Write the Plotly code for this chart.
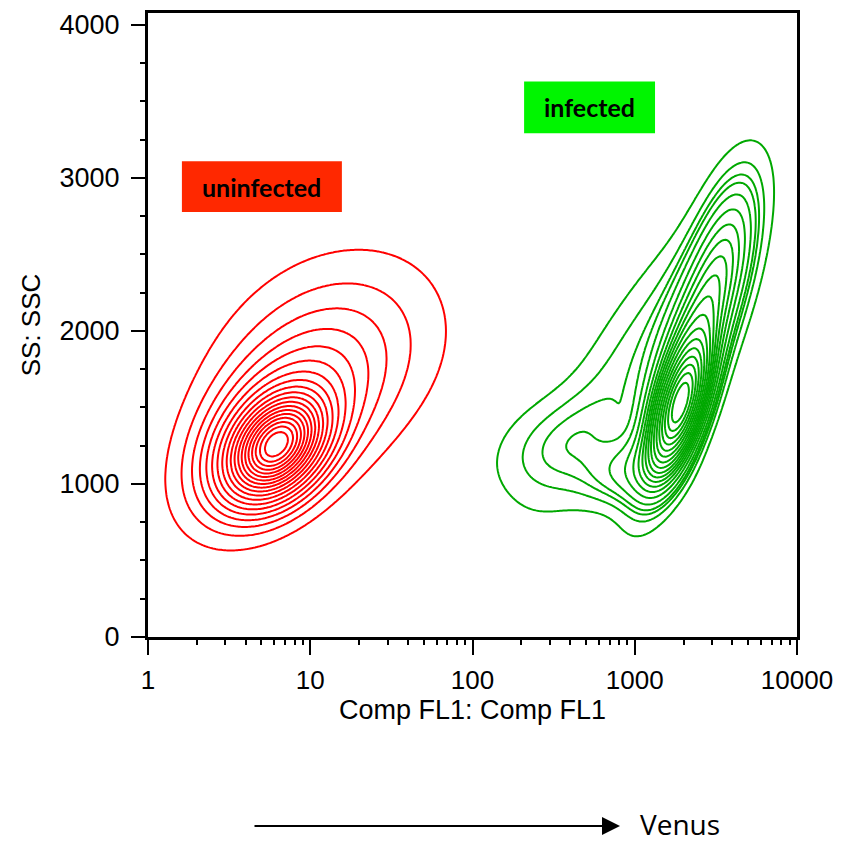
import numpy as np
import plotly.graph_objects as go

# Axis ticks
X_TICK_VALS = [1, 10, 100, 1000, 10000]
X_TICK_TEXT = ["1", "10", "100", "1000", "10000"]
Y_TICK_VALS = [0, 1000, 2000, 3000, 4000]
Y_TICK_TEXT = ["0", "1000", "2000", "3000", "4000"]

# Population models in (log10 Comp FL1, SSC) space: Gaussian mixture components
# uninfected
R_MU_U = [0.79, 0.80, 1.12]
R_MU_V = [1250, 1350, 1830]
R_SD_U = [0.17, 0.30, 0.45]
R_SD_V = [190, 340, 440]
R_RHO = [0.35, 0.45, 0.25]
R_W = [0.48, 0.33, 0.19]

# infected
G_MU_U = [3.28, 3.32, 3.55, 3.05, 2.50, 2.95]
G_MU_V = [1500, 1800, 2450, 1900, 1250, 1080]
G_SD_U = [0.11, 0.18, 0.14, 0.42, 0.27, 0.18]
G_SD_V = [260, 480, 380, 650, 230, 150]
G_RHO = [0.60, 0.75, 0.50, 0.85, 0.30, 0.20]
G_W = [0.34, 0.32, 0.10, 0.15, 0.05, 0.04]

# equal-probability contour levels (fraction of events enclosed)
LEVEL_START, LEVEL_END, LEVEL_STEP = 0.05, 0.95, 0.05

u_grid = np.linspace(-0.3, 4.3, 461)
v_grid = np.linspace(-300, 4400, 471)
U, V = np.meshgrid(u_grid, v_grid)


def mixture_density(mu_u, mu_v, sd_u, sd_v, rho, w):
    z = np.zeros_like(U)
    for mu1, mu2, s1, s2, r, wt in zip(mu_u, mu_v, sd_u, sd_v, rho, w):
        a = (U - mu1) / s1
        b = (V - mu2) / s2
        q = (a * a - 2 * r * a * b + b * b) / (1 - r * r)
        z += wt / (2 * np.pi * s1 * s2 * np.sqrt(1 - r * r)) * np.exp(-q / 2)
    return z


def enclosed_fraction(z):
    # map each density value to the share of events lying at higher density
    flat = z.ravel()
    order = np.argsort(flat)[::-1]
    cum = np.cumsum(flat[order])
    cum /= cum[-1]
    out = np.empty_like(flat)
    out[order] = cum
    return out.reshape(z.shape)


def contour_trace(z, color, name):
    return go.Contour(
        x=10 ** u_grid,
        y=v_grid,
        z=enclosed_fraction(z),
        name=name,
        contours=dict(coloring="lines", start=LEVEL_START, end=LEVEL_END, size=LEVEL_STEP),
        colorscale=[[0, color], [1, color]],
        line=dict(width=2, smoothing=0),
        showscale=False,
        hoverinfo="skip",
    )


fig = go.Figure()
fig.add_trace(contour_trace(mixture_density(R_MU_U, R_MU_V, R_SD_U, R_SD_V, R_RHO, R_W), "#FF0000", "uninfected"))
fig.add_trace(contour_trace(mixture_density(G_MU_U, G_MU_V, G_SD_U, G_SD_V, G_RHO, G_W), "#00A800", "infected"))

SANS = "Liberation Sans, Arial, sans-serif"

fig.update_xaxes(
    type="log",
    range=[0, 4],
    tickvals=X_TICK_VALS,
    ticktext=X_TICK_TEXT,
    ticks="outside",
    ticklen=15,
    tickwidth=2,
    tickcolor="black",
    tickfont=dict(family=SANS, size=26, color="black"),
    ticklabelstandoff=3,
    showline=True,
    linewidth=3,
    linecolor="black",
    mirror=True,
    showgrid=False,
    zeroline=False,
    minor=dict(
        tickvals=[m * d for d in [1, 10, 100, 1000] for m in range(2, 10)],
        ticks="outside",
        ticklen=5,
        tickwidth=2,
        tickcolor="black",
        showgrid=False,
    ),
    title=dict(text="Comp FL1: Comp FL1", font=dict(family=SANS, size=27, color="black"), standoff=6),
)
fig.update_yaxes(
    range=[0, 4078],
    tickvals=Y_TICK_VALS,
    ticktext=Y_TICK_TEXT,
    ticks="outside",
    ticklen=14,
    tickwidth=2,
    tickcolor="black",
    tickfont=dict(family=SANS, size=27, color="black"),
    ticklabelstandoff=6,
    showline=True,
    linewidth=3,
    linecolor="black",
    mirror=True,
    showgrid=False,
    zeroline=False,
    minor=dict(dtick=250, ticks="outside", ticklen=5, tickwidth=2, tickcolor="black", showgrid=False),
    title=dict(text="SS: SSC", font=dict(family=SANS, size=26, color="black"), standoff=12),
)

label_font = dict(family="Lato, Open Sans, sans-serif", size=25, color="black", weight="bold")

fig.update_layout(
    width=855,
    height=843,
    margin=dict(l=148, r=58, t=10, b=206),
    paper_bgcolor="white",
    plot_bgcolor="white",
    showlegend=False,
    shapes=[
        dict(type="rect", xref="x", yref="y", x0=10 ** 0.209, x1=10 ** 1.195, y0=2778, y1=3109,
             fillcolor="#FF2800", line=dict(width=0), layer="below"),
        dict(type="rect", xref="x", yref="y", x0=10 ** 2.318, x1=10 ** 3.125, y0=3292, y1=3630,
             fillcolor="#00F500", line=dict(width=0), layer="below"),
    ],
    annotations=[
        # annotation x on a log axis is given in log10 units
        dict(x=0.702, y=2943, xref="x", yref="y", text="<b>uninfected</b>", showarrow=False,
             font=label_font),
        dict(x=2.722, y=3461, xref="x", yref="y", text="<b>infected</b>", showarrow=False,
             font=label_font),
        # Venus fluorescence direction arrow
        dict(x=(620 - 148) / 649, y=(637 - 827) / 627, xref="paper", yref="paper",
             ax=-(620 - 253), ay=0, axref="pixel", ayref="pixel",
             text="", showarrow=True, arrowhead=2, arrowsize=1.8, arrowwidth=2, arrowcolor="black"),
        dict(x=(638 - 148) / 649, y=(637 - 825) / 627, xref="paper", yref="paper", xanchor="left",
             yanchor="middle", text="Venus", showarrow=False,
             font=dict(family="Open Sans, Lato, sans-serif", size=28, color="black")),
    ],
)

fig.write_html("out.html")
